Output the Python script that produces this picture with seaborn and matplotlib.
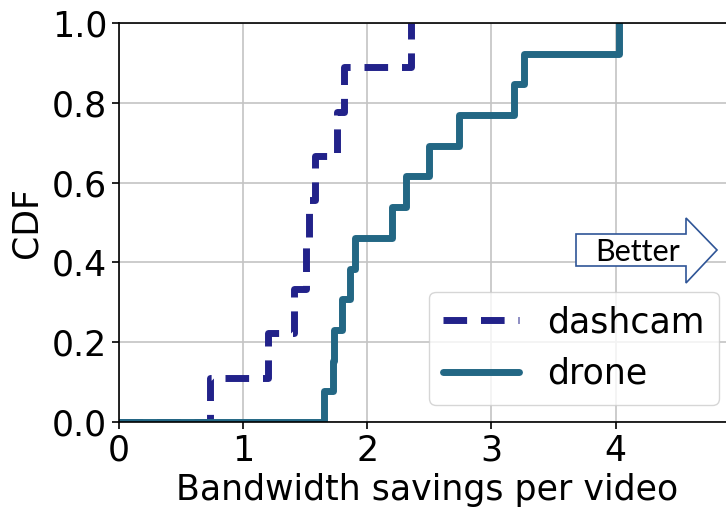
import matplotlib
matplotlib.use("Agg")
import matplotlib.pyplot as plt
from matplotlib.patches import Polygon
import numpy as np
import seaborn as sns

# Per-video bandwidth savings
dashcam = [0.73, 1.20, 1.41, 1.51, 1.53, 1.58, 1.76, 1.81, 2.35]
drone = [1.65, 1.72, 1.73, 1.80, 1.86, 1.90, 2.20, 2.31, 2.50, 2.74, 3.18, 3.26, 4.03]

series_names = ["dashcam", "drone"]
series_colors = ["#22228a", "#236784"]
series_styles = [(0, (3.4, 2.0)), "-"]

sns.set_style("ticks", rc={
    "axes.edgecolor": "black",
    "grid.color": "#c4c4c4",
    "axes.grid": True,
    "text.color": "black",
    "axes.labelcolor": "black",
    "xtick.color": "black",
    "ytick.color": "black",
})
plt.rcParams["font.family"] = ["DejaVu Sans"]


def ecdf_steps(values):
    """Empirical CDF as step vertices, starting from the origin."""
    v = np.sort(np.asarray(values, dtype=float))
    xs = np.r_[0.0, v]
    ys = np.r_[0.0, np.arange(1, len(v) + 1) / len(v)]
    return xs, ys


W, H = 726, 508
fig = plt.figure(figsize=(W / 100, H / 100), dpi=100)
ax = fig.add_axes([119 / W, 1 - 422 / H, (736 - 119) / W, (422 - 23) / H])

for vals, name, color, ls in zip([dashcam, drone], series_names,
                                 series_colors, series_styles):
    xs, ys = ecdf_steps(vals)
    sns.lineplot(x=xs, y=ys, ax=ax, color=color, linestyle=ls, linewidth=5,
                 drawstyle="steps-post", estimator=None, sort=False,
                 label=name)

ax.set_xlim(0, 4.97)
ax.set_ylim(0, 1.0)
ax.set_xticks([0, 1, 2, 3, 4])
ax.set_yticks([0.0, 0.2, 0.4, 0.6, 0.8, 1.0])
ax.set_yticklabels(["0.0", "0.2", "0.4", "0.6", "0.8", "1.0"])
ax.tick_params(labelsize=25, length=5, width=1.2)
ax.set_xlabel("Bandwidth savings per video", fontsize=25, labelpad=4)
ax.set_ylabel("CDF", fontsize=25, labelpad=6)
ax.grid(True, color="#c4c4c4", linewidth=1.2)
for side in ["left", "bottom", "top", "right"]:
    ax.spines[side].set_linewidth(1.2)

ax.legend(loc="lower right", fontsize=25, handlelength=2.2, framealpha=0.8,
          borderaxespad=0.5)

# "Better" direction arrow
pts = [(576, 234), (686, 234), (686, 218), (717, 250), (686, 283),
       (686, 266), (576, 266)]
arrow = Polygon([(x / W, 1 - y / H) for x, y in pts], closed=True,
                transform=fig.transFigure, facecolor="white",
                edgecolor="#2F5597", linewidth=1.2, zorder=5)
fig.patches.append(arrow)
fig.text(638 / W, 1 - 252 / H, "Better", fontsize=22, family="Lato",
         ha="center", va="center", zorder=6)

fig.savefig("out.png", dpi=100)
